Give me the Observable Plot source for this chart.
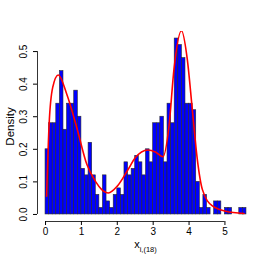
<!DOCTYPE html>
<html>
<head>
<meta charset="utf-8">
<script src="https://cdn.jsdelivr.net/npm/d3@7"></script>
<script src="https://cdn.jsdelivr.net/npm/@observablehq/plot@0.6"></script>
<style>
  html, body { margin: 0; padding: 0; background: #fff; }
</style>
</head>
<body>
<div id="chart"></div>
<script>
// Histogram densities, bins of width 0.1 from 0 to 5.6
const binWidth = 0.1;
const densities = [
  0.20, 0.28, 0.28, 0.34, 0.44, 0.26, 0.34, 0.34, 0.38, 0.30,
  0.14, 0.12, 0.22, 0.12, 0.06, 0.02, 0.12, 0.04, 0.02, 0.06,
  0.08, 0.06, 0.16, 0.12, 0.14, 0.18, 0.16, 0.12, 0.20, 0.16,
  0.28, 0.28, 0.30, 0.16, 0.34, 0.28, 0.54, 0.52, 0.48, 0.34,
  0.34, 0.32, 0.10, 0.02, 0.06, 0.02, 0.00, 0.04, 0.04, 0.00,
  0.02, 0.02, 0.00, 0.00, 0.02, 0.02
];
// Kernel density curve
const curveX = [0.03, 0.10, 0.20, 0.355, 0.59, 0.87, 1.15, 1.40, 1.56, 1.75, 2.00, 2.30, 2.50, 2.85, 3.06, 3.27, 3.44, 3.58, 3.79, 3.95, 4.09, 4.23, 4.37, 4.65, 5.02, 5.53];
const curveY = [0.056, 0.277, 0.39, 0.428, 0.37, 0.267, 0.154, 0.10, 0.077, 0.066, 0.087, 0.138, 0.174, 0.198, 0.192, 0.177, 0.27, 0.446, 0.564, 0.477, 0.323, 0.169, 0.077, 0.026, 0.010, 0.003];
const xTicks = [0, 1, 2, 3, 4, 5];
const yTicks = [0.0, 0.1, 0.2, 0.3, 0.4, 0.5];

const bars = densities.map((d, i) => ({x1: i * binWidth, x2: (i + 1) * binWidth, y: d}));
const curve = curveX.map((x, i) => ({x, y: curveY[i]}));

const xMax = densities.length * binWidth;
const xPad = 0.04 * xMax;
const yMaxData = d3.max(densities);
const yPad = 0.04 * yMaxData;
const xMin = -xPad, yMin = -yPad;

const chart = Plot.plot({
  width: 258,
  height: 258,
  marginLeft: 37,
  marginRight: 4,
  marginTop: 31,
  marginBottom: 37,
  style: {fontFamily: "'Liberation Sans', Arial, Helvetica, sans-serif", fontSize: "10px", color: "black", background: "white"},
  x: {domain: [xMin, xMax + xPad]},
  y: {domain: [yMin, yMaxData + yPad]},
  marks: [
    Plot.rectY(bars, {x1: "x1", x2: "x2", y1: 0, y2: "y", fill: "#0000ff", stroke: "#2a2a2a", strokeWidth: 0.6}),
    Plot.line(curve, {x: "x", y: "y", stroke: "#ff0000", strokeWidth: 1.6, curve: "monotone-x", clip: "frame"}),
    Plot.ruleX([xMin], {y1: 0, y2: 0.5, stroke: "black", strokeWidth: 0.8}),
    Plot.ruleY([yMin], {x1: 0, x2: 5, stroke: "black", strokeWidth: 0.8}),
    Plot.axisX({ticks: xTicks, tickSize: 4, tickPadding: 2, tickFormat: d => String(d), fontSize: 10, label: null}),
    Plot.axisY({ticks: yTicks, tickSize: 4, tickFormat: () => "", label: null}),
    Plot.text(yTicks, {x: xMin, y: d => d, text: d => d.toFixed(1), rotate: -90, dx: -14, textAnchor: "middle", fontSize: 10, fill: "black"}),
    Plot.text(["Density"], {frameAnchor: "left", dx: -27, rotate: -90, text: d => d, textAnchor: "middle", fontSize: 11.5, fill: "black"})
  ]
});

const svg = d3.select(chart);
const lab = svg.append("text")
  .attr("x", 145.5)
  .attr("y", 248.3)
  .attr("text-anchor", "middle")
  .attr("fill", "black")
  .style("font-family", "'Liberation Sans', Arial, Helvetica, sans-serif");
lab.append("tspan").attr("font-size", 11).text("x");
lab.append("tspan").attr("font-size", 7.5).attr("dy", 3.5).text("i,(18)");

document.getElementById("chart").appendChild(chart);
</script>
</body>
</html>
